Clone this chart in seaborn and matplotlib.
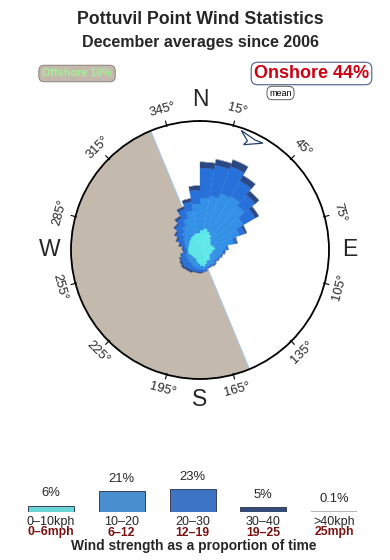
import numpy as np
import matplotlib
matplotlib.use("Agg")
import matplotlib.pyplot as plt
import seaborn as sns
import pandas as pd

# ---------------- data ----------------
title = "Pottuvil Point Wind Statistics"
subtitle = "December averages since 2006"
offshore_label = "Offshore 10%"
onshore_label = "Onshore 44%"

# direction bins (centre, degrees from N), 10 degrees wide
dir_centers = [5, 15, 25, 35, 45, 55, 65, 75, 85, 95, 105, 115, 125, 135, 145, 155, 165, 175,
               185, 195, 205, 215, 225, 235, 245, 255, 265, 275, 285, 295, 305, 315, 325, 335, 345, 355]
# % of time per direction bin and speed class
pct_0_10 = [0.33, 0.40, 0.33, 0.27, 0.19, 0.14, 0.12, 0.16, 0.19, 0.14, 0.12, 0.10, 0.12, 0.16, 0.14, 0.19, 0.24, 0.21,
            0.16, 0.12, 0.08, 0.08, 0.08, 0.08, 0.10, 0.12, 0.12, 0.12, 0.12, 0.12, 0.14, 0.16, 0.19, 0.21, 0.24, 0.24]
pct_10_20 = [1.90, 2.09, 2.64, 2.90, 2.59, 1.92, 1.33, 0.79, 0.37, 0.30, 0.24, 0.20, 0.15, 0.14, 0.13, 0.08, 0.09, 0.12,
             0.14, 0.15, 0.16, 0.13, 0.13, 0.10, 0.09, 0.04, 0.02, 0.04, 0.07, 0.12, 0.19, 0.31, 0.46, 0.74, 1.08, 1.50]
pct_20_30 = [3.31, 3.60, 3.56, 2.11, 1.50, 1.31, 0.44, 0.18, 0.09, 0.08, 0.07, 0.07, 0.06, 0.07, 0.06, 0.06, 0.07, 0.07,
             0.10, 0.13, 0.16, 0.19, 0.22, 0.21, 0.18, 0.14, 0.07, 0.08, 0.14, 0.24, 0.32, 0.42, 0.48, 0.64, 0.66, 1.22]
pct_30_40 = [0.84, 0.88, 1.07, 0.82, 0.61, 0.43, 0.16, 0.06, 0.00, 0.00, 0.00, 0.00, 0.00, 0.00, 0.00, 0.00, 0.00, 0.04,
             0.04, 0.04, 0.08, 0.08, 0.08, 0.07, 0.04, 0.03, 0.03, 0.03, 0.06, 0.07, 0.08, 0.09, 0.15, 0.18, 0.28, 0.45]
pct_40_up = [0.02, 0.02, 0.02, 0.01, 0.01, 0.00, 0.00, 0.00, 0.00, 0.00, 0.00, 0.00, 0.00, 0.00, 0.00, 0.00, 0.00, 0.00,
             0.00, 0.00, 0.00, 0.00, 0.00, 0.00, 0.00, 0.00, 0.00, 0.00, 0.00, 0.00, 0.00, 0.00, 0.00, 0.00, 0.01, 0.01]
ring_pct = 13.7          # cumulative % reached at the outer ring (radius ~ sqrt of %)

offshore_from, offshore_to = 157.5, 337.5   # offshore sector (clockwise from/to)
mean_dir = 25

compass_names = ["N", "E", "S", "W"]
compass_deg = [0, 90, 180, 270]
degree_ticks = [15, 45, 75, 105, 135, 165, 195, 225, 255, 285, 315, 345]

speed_kph = ["0–10kph", "10–20", "20–30", "30–40", ">40kph"]
speed_mph = ["0–6mph", "6–12", "12–19", "19–25", "25mph"]
speed_share = [6, 21, 23, 5, 0.1]
speed_share_text = ["6%", "21%", "23%", "5%", "0.1%"]

# ---------------- style ----------------
sns.set_theme(style="white")
plt.rcParams['font.family'] = ['Liberation Sans', 'DejaVu Sans']

speed_colors = ["#5ae8e8", "#3290e6", "#2870da", "#2a4886", "#a8a8a8"]
grey_sector = "#c4b9ad"

fig = plt.figure(figsize=(3.9, 5.6), dpi=100)
W, H = 390, 560

# ---------------- rose ----------------
cx, cy, R = 200, 250, 129
ax = fig.add_axes([(cx - R) / W, (H - cy - R) / H, 2 * R / W, 2 * R / H], projection='polar')
ax.set_theta_zero_location('N')
ax.set_theta_direction(-1)
RMAX = np.sqrt(ring_pct)
ax.grid(False)
ax.set_facecolor('white')
ax.spines['polar'].set_linewidth(1.3)
ax.spines['polar'].set_color('black')
ax.spines['polar'].set_zorder(6)

# offshore sector
span = (offshore_to - offshore_from) % 360
ax.bar(np.deg2rad(offshore_from + span / 2), RMAX, width=np.deg2rad(span), bottom=0,
       color=grey_sector, edgecolor='none', zorder=1)
for a in (offshore_from, offshore_to):
    ax.plot([np.deg2rad(a)] * 2, [0, RMAX], color="#a9c6e6", lw=0.9, zorder=1.5)

classes = [pct_0_10, pct_10_20, pct_20_30, pct_30_40, pct_40_up]
theta = np.deg2rad(dir_centers)
width = np.deg2rad(10)
cum_prev = np.zeros(len(dir_centers))
for k, (vals, colr) in enumerate(zip(classes, speed_colors)):
    cum = cum_prev + np.array(vals)
    r0, r1 = np.sqrt(cum_prev), np.sqrt(cum)
    ax.bar(theta, r1 - r0, width=width, bottom=r0, color=colr, edgecolor=colr,
           linewidth=0.2, zorder=3)
    cum_prev = cum

px = RMAX / R
# mean direction marker (open arrowhead near the ring)
arrow = [(mean_dir - 6, 126.5), (mean_dir - 1.5, 119), (mean_dir - 2.5, 114),
         (mean_dir + 5.5, 124), (mean_dir + 1.5, 123)]
ath = np.deg2rad([p[0] for p in arrow] + [arrow[0][0]])
ar = [p[1] * px for p in arrow] + [arrow[0][1] * px]
ax.fill(ath, ar, facecolor='white', edgecolor='#22406a', lw=0.9, zorder=5)

# degree ticks and labels
for d in degree_ticks:
    t = np.deg2rad(d)
    ax.plot([t, t], [RMAX * 0.99, RMAX * 1.035], color='black', lw=0.8, clip_on=False, zorder=6)
    rot = -d if (d < 90 or d > 270) else 180 - d
    ax.text(t, 145 * px, f"{d}°", rotation=rot, ha='center', va='center', fontsize=9.3,
            rotation_mode='anchor', clip_on=False)

for name, d in zip(compass_names, compass_deg):
    ax.text(np.deg2rad(d), 150 * px, name, ha='center', va='center', fontsize=16.5, clip_on=False)

ax.set_xticks([])
ax.set_yticks([])
ax.set_ylim(0, RMAX)

# ---------------- headings ----------------
fig.text(0.513, 1 - 19 / H, title, ha='center', va='center', fontsize=12.8, fontweight='bold')
fig.text(0.513, 1 - 43 / H, subtitle, ha='center', va='center', fontsize=11.5, fontweight='bold')

fig.text(77 / W, 1 - 73.5 / H, offshore_label, ha='center', va='center', fontsize=7.8, color='#a2f296',
         fontweight='bold',
         bbox=dict(boxstyle='round,pad=0.3,rounding_size=0.5', facecolor=grey_sector, edgecolor='#8a8178', lw=0.7))
fig.text(311.5 / W, 1 - 73.5 / H, onshore_label, ha='center', va='center', fontsize=13, color='#cc0010',
         fontweight='bold',
         bbox=dict(boxstyle='round,pad=0.15,rounding_size=0.35', facecolor='white', edgecolor='#5b7090', lw=0.9))
fig.text(280.5 / W, 1 - 93 / H, "mean", ha='center', va='center', fontsize=6.5, color='black',
         bbox=dict(boxstyle='round,pad=0.25,rounding_size=0.6', facecolor='white', edgecolor='#444444', lw=0.6))

# ---------------- speed legend ----------------
lax = fig.add_axes([0, 48 / H, 1, 30 / H])
leg = pd.DataFrame({"speed": speed_kph, "share": speed_share})
sns.barplot(data=leg, x="speed", y="share", hue="speed", palette=speed_colors, legend=False,
            width=0.65, ax=lax, edgecolor='#3a3f5a', linewidth=0.7)
lax.patches[-1].set_edgecolor('#a8a8a8')
lax.patches[-1].set_linewidth(1.2)
lax.set_xlim(-0.72, 4.79)
lax.set_ylim(0, 30)
lax.axis('off')
for i, (s, st, k, m) in enumerate(zip(speed_share, speed_share_text, speed_kph, speed_mph)):
    lax.text(i, s + 12.5, st, ha='center', va='center', fontsize=9.4, clip_on=False)
    lax.text(i, -10, k, ha='center', va='center', fontsize=9, clip_on=False)
    lax.text(i, -20.5, m, ha='center', va='center', fontsize=8.8, fontweight='bold', color='#7a1010', clip_on=False)

fig.text(0.498, 1 - 546 / H, "Wind strength as a proportion of time", ha='center', va='center',
         fontsize=9.9, fontweight='bold')

fig.savefig("out.png", dpi=100)
